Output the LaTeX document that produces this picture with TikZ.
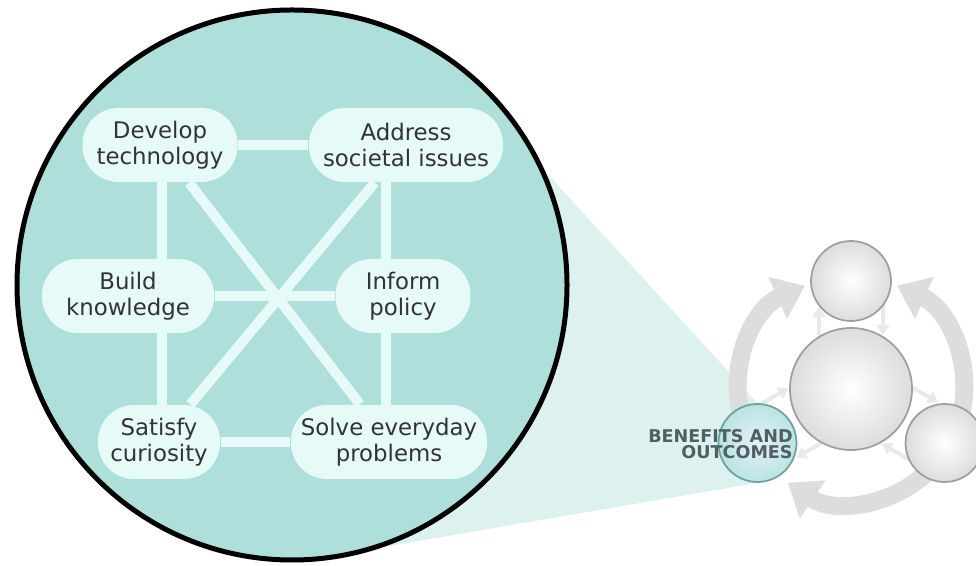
\documentclass[tikz,border=0pt]{standalone}
\usepackage{fontspec}
\setsansfont{DejaVu Sans}
\usetikzlibrary{arrows.meta,backgrounds}
\definecolor{lensfill}{HTML}{AEDFDA}
\definecolor{pillfill}{HTML}{E6FAF8}
\definecolor{conefill}{HTML}{DDF2EF}
\definecolor{pilltext}{HTML}{333333}
\definecolor{capstext}{HTML}{4F5F62}
\definecolor{ringgray}{HTML}{DDDDDD}

\begin{document}
\begin{tikzpicture}
\tikzset{pill/.style={fill=pillfill, rounded corners=0.36cm, minimum height=0.74cm, inner sep=1pt, align=center, text=pilltext, font=\sffamily\fontsize{6.5}{7.4}\selectfont},
link/.style={draw=pillfill, line width=0.1cm},
ball/.style={circle, draw=gray!75, line width=0.5pt, inner color=white, outer color=gray!27, inner sep=0pt},
ring/.style={draw=ringgray, line width=0.18cm, -{Triangle[width=0.44cm,length=0.3cm]}},
minor/.style={draw=gray!17, line width=0.04cm, -{Triangle[width=0.13cm,length=0.1cm]}},
capslabel/.style={align=right, inner sep=0pt, text=capstext, font=\sffamily\bfseries\fontsize{5}{4.7}\selectfont}}
\useasboundingbox (0,0) rectangle (9.76,5.66);
\node[pill, minimum width=1.55cm] (dev) at (1.60,4.21) {Develop\\technology};
\node[pill, minimum width=1.94cm] (addr) at (4.06,4.21) {Address\\societal issues};
\node[pill, minimum width=1.72cm] (build) at (1.28,2.70) {Build\\knowledge};
\node[pill, minimum width=1.35cm] (inform) at (4.03,2.70) {Inform\\policy};
\node[pill, minimum width=1.22cm] (sat) at (1.59,1.24) {Satisfy\\curiosity};
\node[pill, minimum width=1.96cm] (solve) at (3.89,1.24) {Solve everyday\\problems};
\node[ball, minimum size=1.22cm] (hub) at (8.51,1.77) {};
\node[ball, minimum size=0.80cm] (ballt) at ([shift={(90:1.08)}]hub.center) {};
\node[ball, minimum size=0.78cm] (ballr) at ([shift={(-30:1.08)}]hub.center) {};
\node[ball, minimum size=0.78cm, draw={rgb,255:red,112;green,160;blue,160}, inner color={rgb,255:red,230;green,240;blue,250}, outer color={rgb,255:red,186;green,228;blue,226}] (balll) at ([shift={(210:1.08)}]hub.center) {};
\node[capslabel, anchor=east] (bentext) at ([xshift=-0.04cm,yshift=-0.01cm]balll.east) {BENEFITS AND\\OUTCOMES};
\begin{scope}[on background layer]
\fill[conefill] (5.20,4.22) -- (balll.north) -- (balll.south) -- (3.60,0.15) -- (3.0,2.8) -- cycle;
\draw[line width=0.05cm, fill=lensfill] (2.92,2.81) circle (2.75);
\coordinate (lx) at (1.62,0);
\coordinate (rx) at (3.86,0);
\draw[link] (dev) -- (addr);
\draw[link] (build) -- (inform);
\draw[link] (sat) -- (solve);
\draw[link] (dev) -- (solve);
\draw[link] (addr) -- (sat);
\draw[link] (dev -| lx) -- (sat -| lx);
\draw[link] (addr -| rx) -- (solve -| rx);
\draw[ring] ([shift={(200:1.13)}]hub.center) arc[start angle=200, end angle=114, radius=1.13];
\draw[ring] ([shift={(-20:1.13)}]hub.center) arc[start angle=-20, end angle=66, radius=1.13];
\draw[ring] ([shift={(-40:1.13)}]hub.center) arc[start angle=-40, end angle=-124, radius=1.13];
\foreach \b/\a in {ballt/90, ballr/-30, balll/210} {
  \draw[minor, shorten >=0.26cm] ([shift={({\a+90}:0.32)}]hub.center) -- ([shift={({\a+90}:0.32)}]\b.center);
  \draw[minor, shorten >=0.54cm] ([shift={({\a-90}:0.32)}]\b.center) -- ([shift={({\a-90}:0.32)}]hub.center);
}
\end{scope}
\end{tikzpicture}
\end{document}
